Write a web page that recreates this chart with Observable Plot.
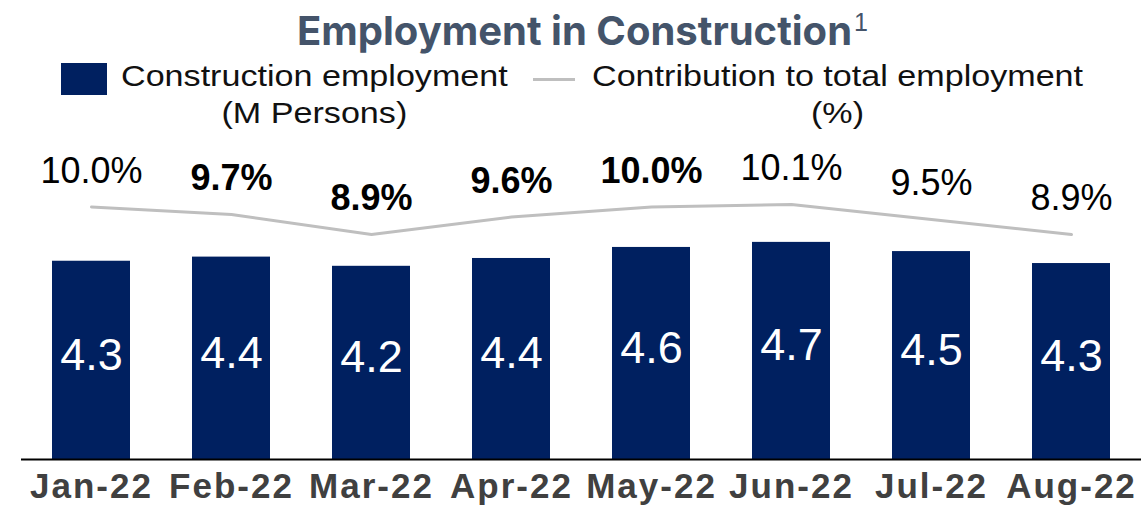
<!DOCTYPE html>
<html>
<head>
<meta charset="utf-8">
<script src="https://cdn.jsdelivr.net/npm/d3@7"></script>
<script src="https://cdn.jsdelivr.net/npm/@observablehq/plot@0.6"></script>
<style>
  html, body { margin: 0; padding: 0; background: #fff; }
  #wrap { position: relative; width: 1145px; height: 508px; overflow: hidden; font-family: "Liberation Sans", Arial, sans-serif; }
  #header { position: relative; width: 1145px; height: 130px; }
  #title { position: absolute; left: 10px; width: 1145px; top: 11px; text-align: center; font-family: Inter, "Noto Sans", sans-serif; font-weight: 700; font-size: 40px; line-height: 40px; color: #44546A; white-space: nowrap; }
  #title sup { font-family: "Liberation Sans", Arial, sans-serif; font-weight: 400; font-size: 25px; vertical-align: 0; position: relative; top: -14px; margin-left: 2px; }
  .swatch-bar { position: absolute; left: 61px; top: 63px; width: 46px; height: 32px; background: #002060; }
  .swatch-line { position: absolute; left: 533px; top: 77.5px; width: 42px; height: 3px; background: #BFBFBF; }
  .leg-text { position: absolute; top: 58px; font-size: 30px; line-height: 36.5px; color: #111; text-align: center; white-space: nowrap; transform: scaleX(1.137); transform-origin: left top; }
  #chart svg { display: block; }
</style>
</head>
<body>
<div id="wrap">
  <div id="header">
    <div id="title"></div>
    <div class="swatch-bar"></div>
    <div class="leg-text" id="leg1" style="left:121px;"></div>
    <div class="swatch-line"></div>
    <div class="leg-text" id="leg2" style="left:592px;"></div>
  </div>
  <div id="chart"></div>
</div>
<script>
// ---- data ----
const months = ["Jan-22", "Feb-22", "Mar-22", "Apr-22", "May-22", "Jun-22", "Jul-22", "Aug-22"];
const employment = [4.31, 4.40, 4.20, 4.37, 4.61, 4.72, 4.52, 4.26];   // M persons
const shareOfTotal = [10.0, 9.7, 8.9, 9.6, 10.0, 10.1, 9.5, 8.9];     // %
const emphasizedMonths = ["Feb-22", "Mar-22", "Apr-22", "May-22"];

const titleText = "Employment in Construction";
const titleNote = "1";
const legendBars = ["Construction employment", "(M Persons)"];
const legendLine = ["Contribution to total employment", "(%)"];

// ---- header ----
const t = document.getElementById("title");
t.textContent = titleText;
const sup = document.createElement("sup");
sup.textContent = titleNote;
t.appendChild(sup);
document.getElementById("leg1").innerHTML = legendBars.join("<br>");
document.getElementById("leg2").innerHTML = legendLine.join("<br>");

// ---- chart ----
// secondary (percent) axis mapped onto the bar axis
const shareToY = d3.scaleLinear().domain([0, 10]).range([0.054, 5.489]);

const data = months.map((m, i) => ({
  month: m,
  emp: employment[i],
  pct: shareOfTotal[i],
  py: shareToY(shareOfTotal[i]),
  bold: emphasizedMonths.includes(m)
}));

const chart = Plot.plot({
  width: 1145,
  height: 378,
  marginTop: 7,
  marginBottom: 49,
  marginLeft: 21,
  marginRight: 4,
  style: { fontFamily: "'Liberation Sans', Arial, sans-serif", background: "#fff", overflow: "visible" },
  x: { domain: months, paddingInner: 0.443, paddingOuter: 0.2215, label: null },
  y: { domain: [0, 7], axis: null },
  marks: [
    Plot.barY(data, { x: "month", y: "emp", fill: "#002060" }),
    Plot.ruleY([0], { stroke: "#000", strokeWidth: 2 }),
    Plot.line(data, { x: "month", y: "py", stroke: "#BFBFBF", strokeWidth: 3 }),
    Plot.text(data, { x: "month", y: d => d.emp / 2, text: d => d.emp.toFixed(1), fill: "#fff", fontSize: 45, dy: -5 }),
    Plot.text(data.filter(d => !d.bold), { x: "month", y: "py", text: d => d.pct.toFixed(1) + "%", fill: "#000", fontSize: 36, dy: -36 }),
    Plot.text(data.filter(d => d.bold), { x: "month", y: "py", text: d => d.pct.toFixed(1) + "%", fill: "#000", fontSize: 36, fontWeight: "bold", dy: -36 }),
    Plot.axisX({ tickSize: 0, tickPadding: 14, fontSize: 35, fontWeight: "bold", color: "#404040", fill: "#404040", label: null })
  ]
});

d3.select(chart).selectAll("g[aria-label='x-axis tick label'] text").style("letter-spacing", "2px");
document.getElementById("chart").appendChild(chart);
</script>
</body>
</html>
